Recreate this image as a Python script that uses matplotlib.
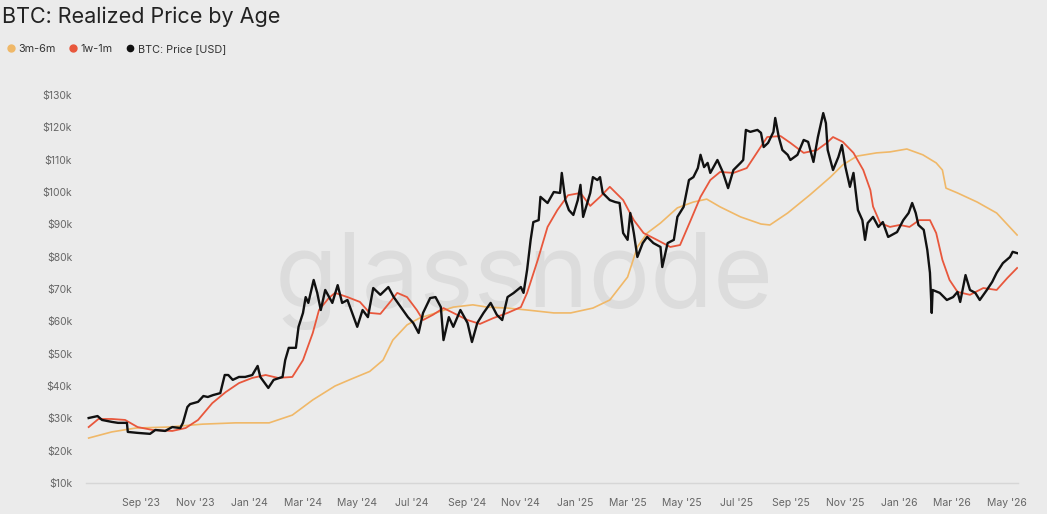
import matplotlib
matplotlib.use("Agg")
import matplotlib.pyplot as plt
import matplotlib.dates as mdates
from matplotlib.lines import Line2D
from matplotlib.ticker import FuncFormatter
import pandas as pd

# BTC price (USD, thousands)
price_dates = [
    "2023-07-04", "2023-07-14", "2023-07-19", "2023-07-30", "2023-08-06", "2023-08-16",
    "2023-08-17", "2023-08-28", "2023-09-11", "2023-09-17", "2023-09-28", "2023-10-06",
    "2023-10-15", "2023-10-18", "2023-10-23", "2023-10-26", "2023-11-04", "2023-11-10",
    "2023-11-15", "2023-11-21", "2023-11-29", "2023-12-04", "2023-12-08", "2023-12-13",
    "2023-12-20", "2023-12-27", "2024-01-04", "2024-01-10", "2024-01-13", "2024-01-22",
    "2024-01-28", "2024-02-07", "2024-02-10", "2024-02-14", "2024-02-22", "2024-02-25",
    "2024-03-01", "2024-03-04", "2024-03-07", "2024-03-13", "2024-03-17", "2024-03-21",
    "2024-03-26", "2024-04-03", "2024-04-09", "2024-04-14", "2024-04-20", "2024-04-27",
    "2024-05-01", "2024-05-07", "2024-05-13", "2024-05-19", "2024-05-27", "2024-06-05",
    "2024-06-11", "2024-06-19", "2024-06-27", "2024-07-03", "2024-07-09", "2024-07-14",
    "2024-07-22", "2024-07-28", "2024-08-03", "2024-08-06", "2024-08-12", "2024-08-17",
    "2024-08-25", "2024-09-02", "2024-09-07", "2024-09-13", "2024-09-20", "2024-09-28",
    "2024-10-05", "2024-10-11", "2024-10-17", "2024-10-24", "2024-11-01", "2024-11-04",
    "2024-11-08", "2024-11-12", "2024-11-15", "2024-11-21", "2024-11-23", "2024-12-01",
    "2024-12-08", "2024-12-15", "2024-12-17", "2024-12-21", "2024-12-25", "2024-12-30",
    "2025-01-04", "2025-01-07", "2025-01-10", "2025-01-18", "2025-01-21", "2025-01-26",
    "2025-01-29", "2025-02-01", "2025-02-09", "2025-02-15", "2025-02-20", "2025-02-24",
    "2025-03-01", "2025-03-04", "2025-03-08", "2025-03-12", "2025-03-18", "2025-03-23",
    "2025-03-30", "2025-04-07", "2025-04-09", "2025-04-15", "2025-04-22", "2025-04-26",
    "2025-05-03", "2025-05-09", "2025-05-14", "2025-05-19", "2025-05-22", "2025-05-26",
    "2025-05-30", "2025-06-02", "2025-06-10", "2025-06-16", "2025-06-22", "2025-06-28",
    "2025-07-06", "2025-07-09", "2025-07-12", "2025-07-17", "2025-07-25", "2025-07-29",
    "2025-08-01", "2025-08-06", "2025-08-12", "2025-08-14", "2025-08-18", "2025-08-22",
    "2025-08-28", "2025-08-31", "2025-09-08", "2025-09-15", "2025-09-20", "2025-09-26",
    "2025-10-01", "2025-10-07", "2025-10-10", "2025-10-12", "2025-10-18", "2025-10-24",
    "2025-10-28", "2025-11-01", "2025-11-06", "2025-11-10", "2025-11-15", "2025-11-20",
    "2025-11-23", "2025-11-26", "2025-12-02", "2025-12-08", "2025-12-13", "2025-12-19",
    "2025-12-29", "2026-01-05", "2026-01-11", "2026-01-15", "2026-01-19", "2026-01-22",
    "2026-01-28", "2026-02-01", "2026-02-04", "2026-02-06", "2026-02-07", "2026-02-15",
    "2026-02-23", "2026-03-02", "2026-03-07", "2026-03-10", "2026-03-16", "2026-03-21",
    "2026-03-27", "2026-04-01", "2026-04-09", "2026-04-15", "2026-04-20", "2026-04-27",
    "2026-05-05", "2026-05-08", "2026-05-13",
]
price = [
    30.1, 30.7, 29.5, 28.9, 28.6, 28.6,
    25.8, 25.5, 25.2, 26.4, 26.1, 27.3,
    27.0, 28.6, 33.5, 34.4, 35.1, 36.9,
    36.6, 37.2, 37.8, 43.4, 43.4, 41.9,
    42.8, 42.8, 43.4, 46.2, 42.8, 39.4,
    41.9, 42.8, 48.0, 51.8, 51.8, 58.3,
    62.6, 67.5, 65.7, 72.8, 68.8, 63.5,
    69.7, 65.7, 71.2, 65.7, 66.6, 61.3,
    58.3, 63.5, 61.3, 70.3, 68.2, 70.6,
    67.5, 64.4, 61.3, 59.5, 56.4, 62.6,
    67.2, 67.5, 64.4, 54.2, 61.3, 58.3,
    63.5, 59.5, 53.6, 59.5, 62.6, 65.7,
    62.0, 60.4, 67.5, 68.8, 70.6, 68.8,
    75.9, 85.2, 90.7, 91.3, 98.5, 96.6,
    100.0, 99.7, 105.9, 97.5, 94.4, 92.9,
    97.5, 102.2, 92.3, 99.7, 104.6, 103.7,
    104.6, 99.7, 97.5, 96.9, 96.6, 87.3,
    85.2, 93.5, 87.3, 79.9, 84.2, 86.1,
    84.2, 83.0, 76.8, 84.2, 85.2, 92.3,
    95.4, 103.7, 104.6, 107.4, 111.5, 107.7,
    109.0, 105.9, 109.9, 106.2, 101.2, 106.8,
    109.0, 109.9, 119.2, 118.6, 119.2, 118.3,
    113.9, 115.2, 118.6, 122.9, 117.0, 113.0,
    111.5, 109.9, 111.5, 116.1, 115.5, 109.3,
    117.0, 124.4, 121.3, 113.0, 106.8, 110.8,
    114.5, 107.7, 101.6, 105.9, 94.4, 91.3,
    85.2, 90.4, 92.3, 89.2, 90.7, 86.1,
    87.6, 91.3, 93.5, 96.6, 93.5, 89.8,
    88.3, 82.1, 75.0, 62.6, 69.7, 68.8,
    66.6, 67.5, 69.1, 66.0, 74.3, 69.7,
    68.8, 66.6, 69.7, 72.2, 75.0, 78.0,
    79.9, 81.5, 81.1,
]

# realized price 1w-1m
rp_1w1m_dates = [
    "2023-07-04", "2023-07-15", "2023-07-30", "2023-08-14", "2023-08-28", "2023-09-14",
    "2023-10-06", "2023-10-21", "2023-11-04", "2023-11-20", "2023-12-05", "2023-12-20",
    "2024-01-04", "2024-01-19", "2024-02-02", "2024-02-18", "2024-03-01", "2024-03-12",
    "2024-03-19", "2024-03-30", "2024-04-06", "2024-04-20", "2024-05-04", "2024-05-15",
    "2024-05-27", "2024-06-07", "2024-06-15", "2024-06-26", "2024-07-07", "2024-07-14",
    "2024-07-25", "2024-08-06", "2024-08-17", "2024-09-02", "2024-09-16", "2024-10-01",
    "2024-10-17", "2024-11-01", "2024-11-08", "2024-11-20", "2024-12-01", "2024-12-12",
    "2024-12-24", "2025-01-07", "2025-01-18", "2025-01-29", "2025-02-09", "2025-02-24",
    "2025-03-08", "2025-03-19", "2025-04-03", "2025-04-18", "2025-04-29", "2025-05-11",
    "2025-05-22", "2025-06-02", "2025-06-13", "2025-06-28", "2025-07-13", "2025-07-25",
    "2025-08-05", "2025-08-20", "2025-08-31", "2025-09-15", "2025-09-30", "2025-10-11",
    "2025-10-18", "2025-10-29", "2025-11-10", "2025-11-21", "2025-11-29", "2025-12-02",
    "2025-12-10", "2025-12-21", "2026-01-01", "2026-01-12", "2026-01-23", "2026-02-04",
    "2026-02-11", "2026-02-18", "2026-02-26", "2026-03-07", "2026-03-21", "2026-04-05",
    "2026-04-20", "2026-05-02", "2026-05-13",
]
rp_1w1m = [
    27.3, 29.8, 29.8, 29.5, 27.3, 26.4,
    26.1, 27.0, 29.5, 34.7, 38.1, 40.9,
    42.5, 43.4, 42.5, 42.8, 48.0, 56.4,
    63.5, 67.2, 68.8, 67.5, 66.0, 62.6,
    62.3, 66.0, 68.8, 67.5, 63.5, 60.4,
    62.0, 64.1, 62.6, 60.4, 59.2, 61.0,
    62.6, 64.4, 68.8, 79.0, 89.2, 94.4,
    99.0, 99.7, 95.7, 98.5, 101.6, 97.5,
    91.3, 87.3, 85.2, 83.0, 83.6, 91.3,
    98.5, 103.7, 106.2, 105.9, 107.4, 112.4,
    117.0, 117.3, 115.2, 112.1, 113.0, 115.2,
    117.0, 115.5, 112.1, 106.8, 100.6, 95.5,
    90.4, 89.2, 89.8, 89.2, 91.3, 91.3,
    87.3, 79.0, 72.8, 69.1, 68.2, 70.3,
    69.7, 73.4, 76.5,
]

# realized price 3m-6m
rp_3m6m_dates = [
    "2023-07-04", "2023-07-30", "2023-08-26", "2023-10-01", "2023-11-09", "2023-12-16",
    "2024-01-23", "2024-02-18", "2024-03-12", "2024-04-06", "2024-04-23", "2024-05-15",
    "2024-05-30", "2024-06-10", "2024-06-26", "2024-07-10", "2024-07-25", "2024-08-17",
    "2024-09-08", "2024-09-24", "2024-10-17", "2024-11-08", "2024-12-08", "2024-12-27",
    "2025-01-21", "2025-02-09", "2025-03-01", "2025-03-12", "2025-03-23", "2025-04-07",
    "2025-04-26", "2025-05-14", "2025-05-29", "2025-06-13", "2025-07-06", "2025-07-29",
    "2025-08-08", "2025-08-28", "2025-09-22", "2025-10-15", "2025-10-29", "2025-11-14",
    "2025-12-06", "2025-12-21", "2026-01-09", "2026-01-27", "2026-02-11", "2026-02-18",
    "2026-02-22", "2026-03-07", "2026-03-29", "2026-04-20", "2026-05-13",
]
rp_3m6m = [
    23.9, 25.8, 27.0, 27.3, 28.2, 28.6,
    28.6, 31.0, 35.7, 40.0, 42.0, 44.5,
    48.0, 54.2, 58.9, 61.0, 62.3, 64.4,
    65.1, 64.4, 64.1, 63.5, 62.6, 62.6,
    64.1, 66.6, 73.7, 83.0, 87.3, 90.4,
    95.1, 96.9, 97.8, 95.4, 92.3, 90.1,
    89.8, 93.5, 99.1, 104.6, 108.4, 111.1,
    112.1, 112.4, 113.3, 111.5, 109.0, 106.8,
    101.2, 99.7, 96.9, 93.5, 86.7,
]

bg = "#ebebeb"
c_orange = "#f0b868"
c_red = "#e8573c"
c_black = "#111111"
font = ["Inter", "DejaVu Sans"]
plt.rcParams["font.family"] = font

fig = plt.figure(figsize=(10.47, 5.14), dpi=100, facecolor=bg)
ax = fig.add_axes([86 / 1047, 1 - 483 / 514, (1018 - 86) / 1047, (483 - 95) / 514])
ax.set_facecolor(bg)

# watermark
ax.text(0.47, 0.52, "glassnode", transform=ax.transAxes, ha="center", va="center",
        fontsize=74, color="#dcdcdc", zorder=0)

ax.plot(pd.to_datetime(rp_3m6m_dates), rp_3m6m, color=c_orange, lw=1.2, zorder=2)
ax.plot(pd.to_datetime(rp_1w1m_dates), rp_1w1m, color=c_red, lw=1.3, zorder=3)
ax.plot(pd.to_datetime(price_dates), price, color=c_black, lw=1.7, zorder=4)

ax.set_xlim(pd.Timestamp("2023-07-01"), pd.Timestamp("2026-05-14"))
ax.set_ylim(10, 130)
ax.set_yticks(range(10, 131, 10))
ax.yaxis.set_major_formatter(FuncFormatter(lambda v, p: f"${int(v)}k"))

ax.xaxis.set_major_locator(mdates.MonthLocator(bymonth=[1, 3, 5, 7, 9, 11]))
ax.xaxis.set_major_formatter(FuncFormatter(
    lambda v, p: mdates.num2date(v).strftime("%b '%y")))
xt = [t for t in ax.get_xticks() if mdates.num2date(t).strftime("%Y-%m") != "2023-07"]
ax.set_xticks(xt)

for s in ["top", "right", "left"]:
    ax.spines[s].set_visible(False)
ax.spines["bottom"].set_color("#d6d6d6")
ax.spines["bottom"].set_linewidth(1.0)
ax.tick_params(axis="y", length=0, pad=10, labelsize=7.5, labelcolor="#666666")
ax.tick_params(axis="x", length=0, pad=11, labelsize=7.5, labelcolor="#666666")

fig.text(2 / 1047, 1 - 17 / 514, "BTC: Realized Price by Age", fontsize=15.5,
         color="#222222", va="center", ha="left")

handles = [
    Line2D([], [], marker="o", ls="none", color=c_orange, markersize=5),
    Line2D([], [], marker="o", ls="none", color=c_red, markersize=5),
    Line2D([], [], marker="o", ls="none", color=c_black, markersize=4.5),
]
fig.legend(handles, ["3m-6m", "1w-1m", "BTC: Price [USD]"], loc="center left",
           bbox_to_anchor=(-2 / 1047, 1 - 49 / 514), ncol=3, frameon=False,
           fontsize=7.8, handlelength=0.6, handletextpad=0.4, columnspacing=1.3,
           labelcolor="#333333")

fig.savefig("out.png", dpi=100, facecolor=bg)
